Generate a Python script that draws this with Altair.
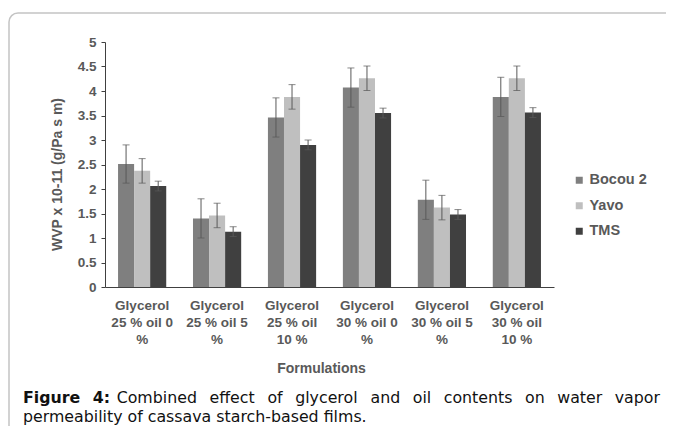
import altair as alt
import pandas as pd

# ---------------- data ----------------
categories = [
    "Glycerol\n25 % oil 0\n%",
    "Glycerol\n25 % oil 5\n%",
    "Glycerol\n25 % oil\n10 %",
    "Glycerol\n30 % oil 0\n%",
    "Glycerol\n30 % oil 5\n%",
    "Glycerol\n30 % oil\n10 %",
]
series = ["Bocou 2", "Yavo", "TMS"]
colors = ["#7f7f7f", "#bfbfbf", "#404040"]

bocou = [2.51, 1.40, 3.46, 4.07, 1.78, 3.88]
yavo = [2.37, 1.46, 3.88, 4.26, 1.62, 4.26]
tms = [2.06, 1.13, 2.90, 3.55, 1.48, 3.56]

bocou_err = [0.39, 0.40, 0.40, 0.40, 0.40, 0.40]
yavo_err = [0.25, 0.25, 0.25, 0.25, 0.25, 0.25]
tms_err = [0.10, 0.10, 0.10, 0.10, 0.10, 0.10]

y_ticks = [0, 0.5, 1, 1.5, 2, 2.5, 3, 3.5, 4, 4.5, 5]
y_title = "WVP x 10-11 (g/Pa s m)"
x_title = "Formulations"
caption_line1 = ["Figure", "4:", "Combined", "effect", "of", "glycerol", "and",
                 "oil", "contents", "on", "water", "vapor"]
caption_line2 = "permeability of cassava starch-based films."

# ---------------- tables ----------------
rows = []
for s, vals, errs in zip(series, [bocou, yavo, tms], [bocou_err, yavo_err, tms_err]):
    for c, v, e in zip(categories, vals, errs):
        rows.append({"cat": c, "series": s, "value": v, "lo": v - e, "hi": v + e})
df = pd.DataFrame(rows)

# caption layout (DejaVu Sans metrics, justified first line)
REG = {' ': 318, 'C': 698, 'a': 613, 'b': 635, 'c': 550, 'd': 635, 'e': 615, 'f': 352,
       'g': 635, 'h': 634, 'i': 278, 'l': 278, 'm': 974, 'n': 634, 'o': 612, 'p': 635,
       'r': 411, 's': 521, 't': 392, 'v': 592, 'w': 818, 'y': 592, '.': 318, '-': 361}
BOLD = {'F': 683, 'i': 343, 'g': 716, 'u': 712, 'r': 493, 'e': 678, '4': 696, ':': 400, ' ': 348}
CAP_FS = 15.8
CAP_FONT = "DejaVu Sans"


def tw(text, table):
    return sum(table.get(ch, 600) for ch in text) * CAP_FS / 1000.0


line_left, line_right = -82.0, 555.0
widths = [tw(w, BOLD if i < 2 else REG) for i, w in enumerate(caption_line1)]
fixed_space = tw(" ", REG)
n_gaps = len(caption_line1) - 2  # gap after "4:" is a plain space
gap = (line_right - line_left - sum(widths) - fixed_space * 1.3) / n_gaps
cap_rows = []
x = line_left
for i, w in enumerate(caption_line1):
    cap_rows.append({"word": w, "px": x, "py": 360.5, "bold": i < 2})
    x += widths[i] + (fixed_space * 1.3 if i == 1 else gap)
cap_rows.append({"word": caption_line2, "px": line_left, "py": 379.5, "bold": False})
cap = pd.DataFrame(cap_rows)

# ---------------- chart ----------------
FONT = "Liberation Sans"
GREY = "#595959"

xaxis = alt.Axis(labelExpr="split(datum.label, '\\n')", labelAngle=0,
                 ticks=False, labelPadding=11, labelLineHeight=17,
                 labelFontSize=13.5, labelFontWeight="bold", labelColor=GREY,
                 labelFont=FONT, domainColor="#404040",
                 titleFontSize=14, titleFontWeight="bold", titleColor=GREY,
                 titleFont=FONT, titleX=216, titleY=81,
                 titleAlign="center", titleBaseline="middle")
xscale = alt.Scale(paddingInner=0.357, paddingOuter=0.174)
yaxis = alt.Axis(values=y_ticks, grid=False, format="~g",
                 labelOverlap=False, labelFlush=False,
                 labelFontSize=13.5, labelFontWeight="bold", labelColor=GREY,
                 labelFont=FONT, tickSize=4, tickColor="#404040",
                 domainColor="#404040", labelPadding=5,
                 titleFontSize=14, titleFontWeight="bold", titleColor=GREY,
                 titleFont=FONT, titleX=-48, titleY=132,
                 titleAlign="center", titleBaseline="middle")
yscale = alt.Scale(domain=[0, 5], nice=False)


def xenc():
    return alt.X("cat:N", sort=categories, title=x_title, scale=xscale, axis=xaxis)


def xoff():
    return alt.XOffset("series:N", sort=series,
                       scale=alt.Scale(paddingInner=0, paddingOuter=0))


def yenc(field):
    return alt.Y(field, scale=yscale, title=y_title, axis=yaxis)


bars = alt.Chart(df).mark_bar().encode(
    x=xenc(),
    xOffset=xoff(),
    y=yenc("value:Q"),
    color=alt.Color("series:N", sort=series,
                    scale=alt.Scale(domain=series, range=colors),
                    legend=alt.Legend(title=None, orient="none", legendX=467, legendY=131,
                                      symbolType="square", symbolSize=49,
                                      symbolStrokeWidth=0, labelFontSize=14.5,
                                      labelFontWeight="bold", labelColor=GREY,
                                      labelFont=FONT, labelOffset=3, rowPadding=10.5,
                                      padding=0)),
)

err = alt.Chart(df).mark_rule(color=GREY, strokeWidth=1).encode(
    x=xenc(), xOffset=xoff(), y=yenc("lo:Q"), y2="hi:Q")
cap_hi = alt.Chart(df).mark_tick(color=GREY, thickness=1, size=7).encode(
    x=xenc(), xOffset=xoff(), y=yenc("hi:Q"))
cap_lo = alt.Chart(df).mark_tick(color=GREY, thickness=1, size=7).encode(
    x=xenc(), xOffset=xoff(), y=yenc("lo:Q"))

frame = alt.Chart(pd.DataFrame({"k": [0]})).mark_rect(
    fillOpacity=0, stroke="#c4c4c4", strokeWidth=1.5, cornerRadius=9).encode(
    x=alt.value(-96), x2=alt.value(700), y=alt.value(-29), y2=alt.value(520))

cap_bold = alt.Chart(cap).transform_filter("datum.bold").mark_text(
    font=CAP_FONT, fontSize=CAP_FS, fontWeight="bold", align="left",
    baseline="alphabetic", color="#111111").encode(
    x=alt.X("px:Q", scale=None, axis=None), y=alt.Y("py:Q", scale=None, axis=None),
    text="word:N")
cap_reg = alt.Chart(cap).transform_filter("!datum.bold").mark_text(
    font=CAP_FONT, fontSize=CAP_FS, align="left",
    baseline="alphabetic", color="#111111").encode(
    x=alt.X("px:Q", scale=None, axis=None), y=alt.Y("py:Q", scale=None, axis=None),
    text="word:N")

chart = alt.layer(frame, bars, err, cap_hi, cap_lo, cap_bold, cap_reg).properties(
    width=449, height=245,
    autosize=alt.AutoSizeParams(type="none"),
    padding={"left": 97, "top": 34, "right": 112, "bottom": 139},
    background="white",
).configure_view(stroke=None)

chart.save("out.html", embed_options={"renderer": "svg", "actions": False})
